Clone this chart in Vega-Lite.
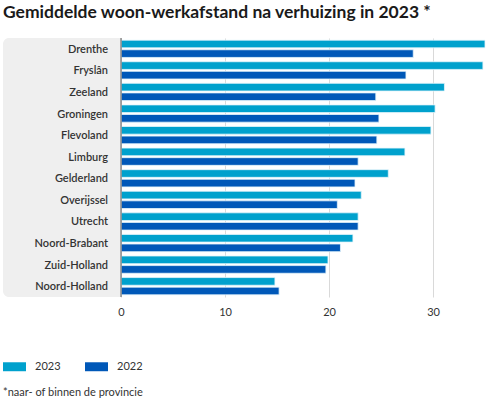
{
  "$schema": "https://vega.github.io/schema/vega-lite/v6.json",
  "autosize": {"type": "none"},
  "padding": {"left": 3, "top": 38, "right": 15, "bottom": 102},
  "width": 482,
  "height": 259,
  "background": "white",
  "title": {
    "text": "Gemiddelde woon-werkafstand na verhuizing in 2023 *",
    "anchor": "start",
    "frame": "group",
    "font": "Lato",
    "fontSize": 17.5,
    "fontWeight": "bold",
    "color": "#1a1a1a",
    "offset": 16
  },
  "config": {
    "view": {"stroke": null},
    "font": "Lato"
  },
  "data": {
    "values": [
      {"provincie": "Drenthe", "jaar": "2023", "afstand": 35.0},
      {"provincie": "Drenthe", "jaar": "2022", "afstand": 28.1},
      {"provincie": "Fryslân", "jaar": "2023", "afstand": 34.8},
      {"provincie": "Fryslân", "jaar": "2022", "afstand": 27.4},
      {"provincie": "Zeeland", "jaar": "2023", "afstand": 31.1},
      {"provincie": "Zeeland", "jaar": "2022", "afstand": 24.5},
      {"provincie": "Groningen", "jaar": "2023", "afstand": 30.2},
      {"provincie": "Groningen", "jaar": "2022", "afstand": 24.8},
      {"provincie": "Flevoland", "jaar": "2023", "afstand": 29.8},
      {"provincie": "Flevoland", "jaar": "2022", "afstand": 24.6},
      {"provincie": "Limburg", "jaar": "2023", "afstand": 27.3},
      {"provincie": "Limburg", "jaar": "2022", "afstand": 22.8},
      {"provincie": "Gelderland", "jaar": "2023", "afstand": 25.7},
      {"provincie": "Gelderland", "jaar": "2022", "afstand": 22.5},
      {"provincie": "Overijssel", "jaar": "2023", "afstand": 23.1},
      {"provincie": "Overijssel", "jaar": "2022", "afstand": 20.8},
      {"provincie": "Utrecht", "jaar": "2023", "afstand": 22.8},
      {"provincie": "Utrecht", "jaar": "2022", "afstand": 22.8},
      {"provincie": "Noord-Brabant", "jaar": "2023", "afstand": 22.3},
      {"provincie": "Noord-Brabant", "jaar": "2022", "afstand": 21.1},
      {"provincie": "Zuid-Holland", "jaar": "2023", "afstand": 19.9},
      {"provincie": "Zuid-Holland", "jaar": "2022", "afstand": 19.7},
      {"provincie": "Noord-Holland", "jaar": "2023", "afstand": 14.8},
      {"provincie": "Noord-Holland", "jaar": "2022", "afstand": 15.2}
    ]
  },
  "layer": [
    {
      "data": {"values": [{}]},
      "mark": {"type": "rect", "color": "#efefef", "cornerRadiusTopLeft": 6, "cornerRadiusBottomLeft": 6},
      "encoding": {
        "x": {"datum": -11.35, "type": "quantitative"},
        "x2": {"datum": 0}
      }
    },
    {
      "mark": {"type": "bar", "stroke": "#e4f5fb", "strokeWidth": 0.8},
      "encoding": {
        "y": {
          "field": "provincie", "type": "nominal", "sort": null,
          "scale": {"paddingInner": 0.2, "paddingOuter": 0.1},
          "axis": null
        },
        "yOffset": {
          "field": "jaar", "type": "nominal", "sort": ["2023", "2022"],
          "scale": {"paddingInner": 0.2}
        },
        "x": {
          "field": "afstand", "type": "quantitative",
          "scale": {"domain": [-11.35, 35], "nice": false, "zero": false},
          "axis": {
            "values": [0, 10, 20, 30],
            "title": null,
            "domain": false,
            "ticks": false,
            "grid": true,
            "gridColor": "#d9d9d9",
            "labelFontSize": 11,
            "labelColor": "#333333",
            "labelPadding": 9,
            "labelFont": "Lato"
          }
        },
        "color": {
          "field": "jaar", "type": "nominal",
          "sort": ["2023", "2022"],
          "scale": {"domain": ["2023", "2022"], "range": ["#00a1cd", "#0058b8"]},
          "legend": {
            "title": "*naar- of binnen de provincie",
            "titleOrient": "bottom",
            "titleAnchor": "start",
            "titleFontWeight": "normal",
            "titleFontSize": 11,
            "titleColor": "#333333",
            "titlePadding": 15,
            "titleLimit": 400,
            "orient": "none",
            "legendX": 0,
            "legendY": 317,
            "direction": "horizontal",
            "symbolType": "M-1,-0.39H1V0.39H-1Z",
            "symbolSize": 529,
            "symbolStrokeWidth": 0,
            "symbolOpacity": 1,
            "labelFontSize": 11,
            "labelColor": "#333333",
            "labelOffset": 9,
            "columnPadding": 24
          }
        }
      }
    },
    {
      "data": {"values": [{}]},
      "mark": {"type": "rule", "color": "#8a8a8a", "strokeWidth": 1.5},
      "encoding": {
        "x": {"datum": 0, "type": "quantitative"}
      }
    },
    {
      "transform": [{"filter": "datum.jaar == '2023'"}],
      "mark": {"type": "text", "align": "right", "baseline": "middle", "dx": -13, "dy": 1, "fontSize": 11, "fontWeight": 600, "color": "#333333", "font": "Lato"},
      "encoding": {
        "y": {"field": "provincie", "type": "nominal", "sort": null},
        "x": {"datum": 0, "type": "quantitative"},
        "text": {"field": "provincie"}
      }
    }
  ]
}
